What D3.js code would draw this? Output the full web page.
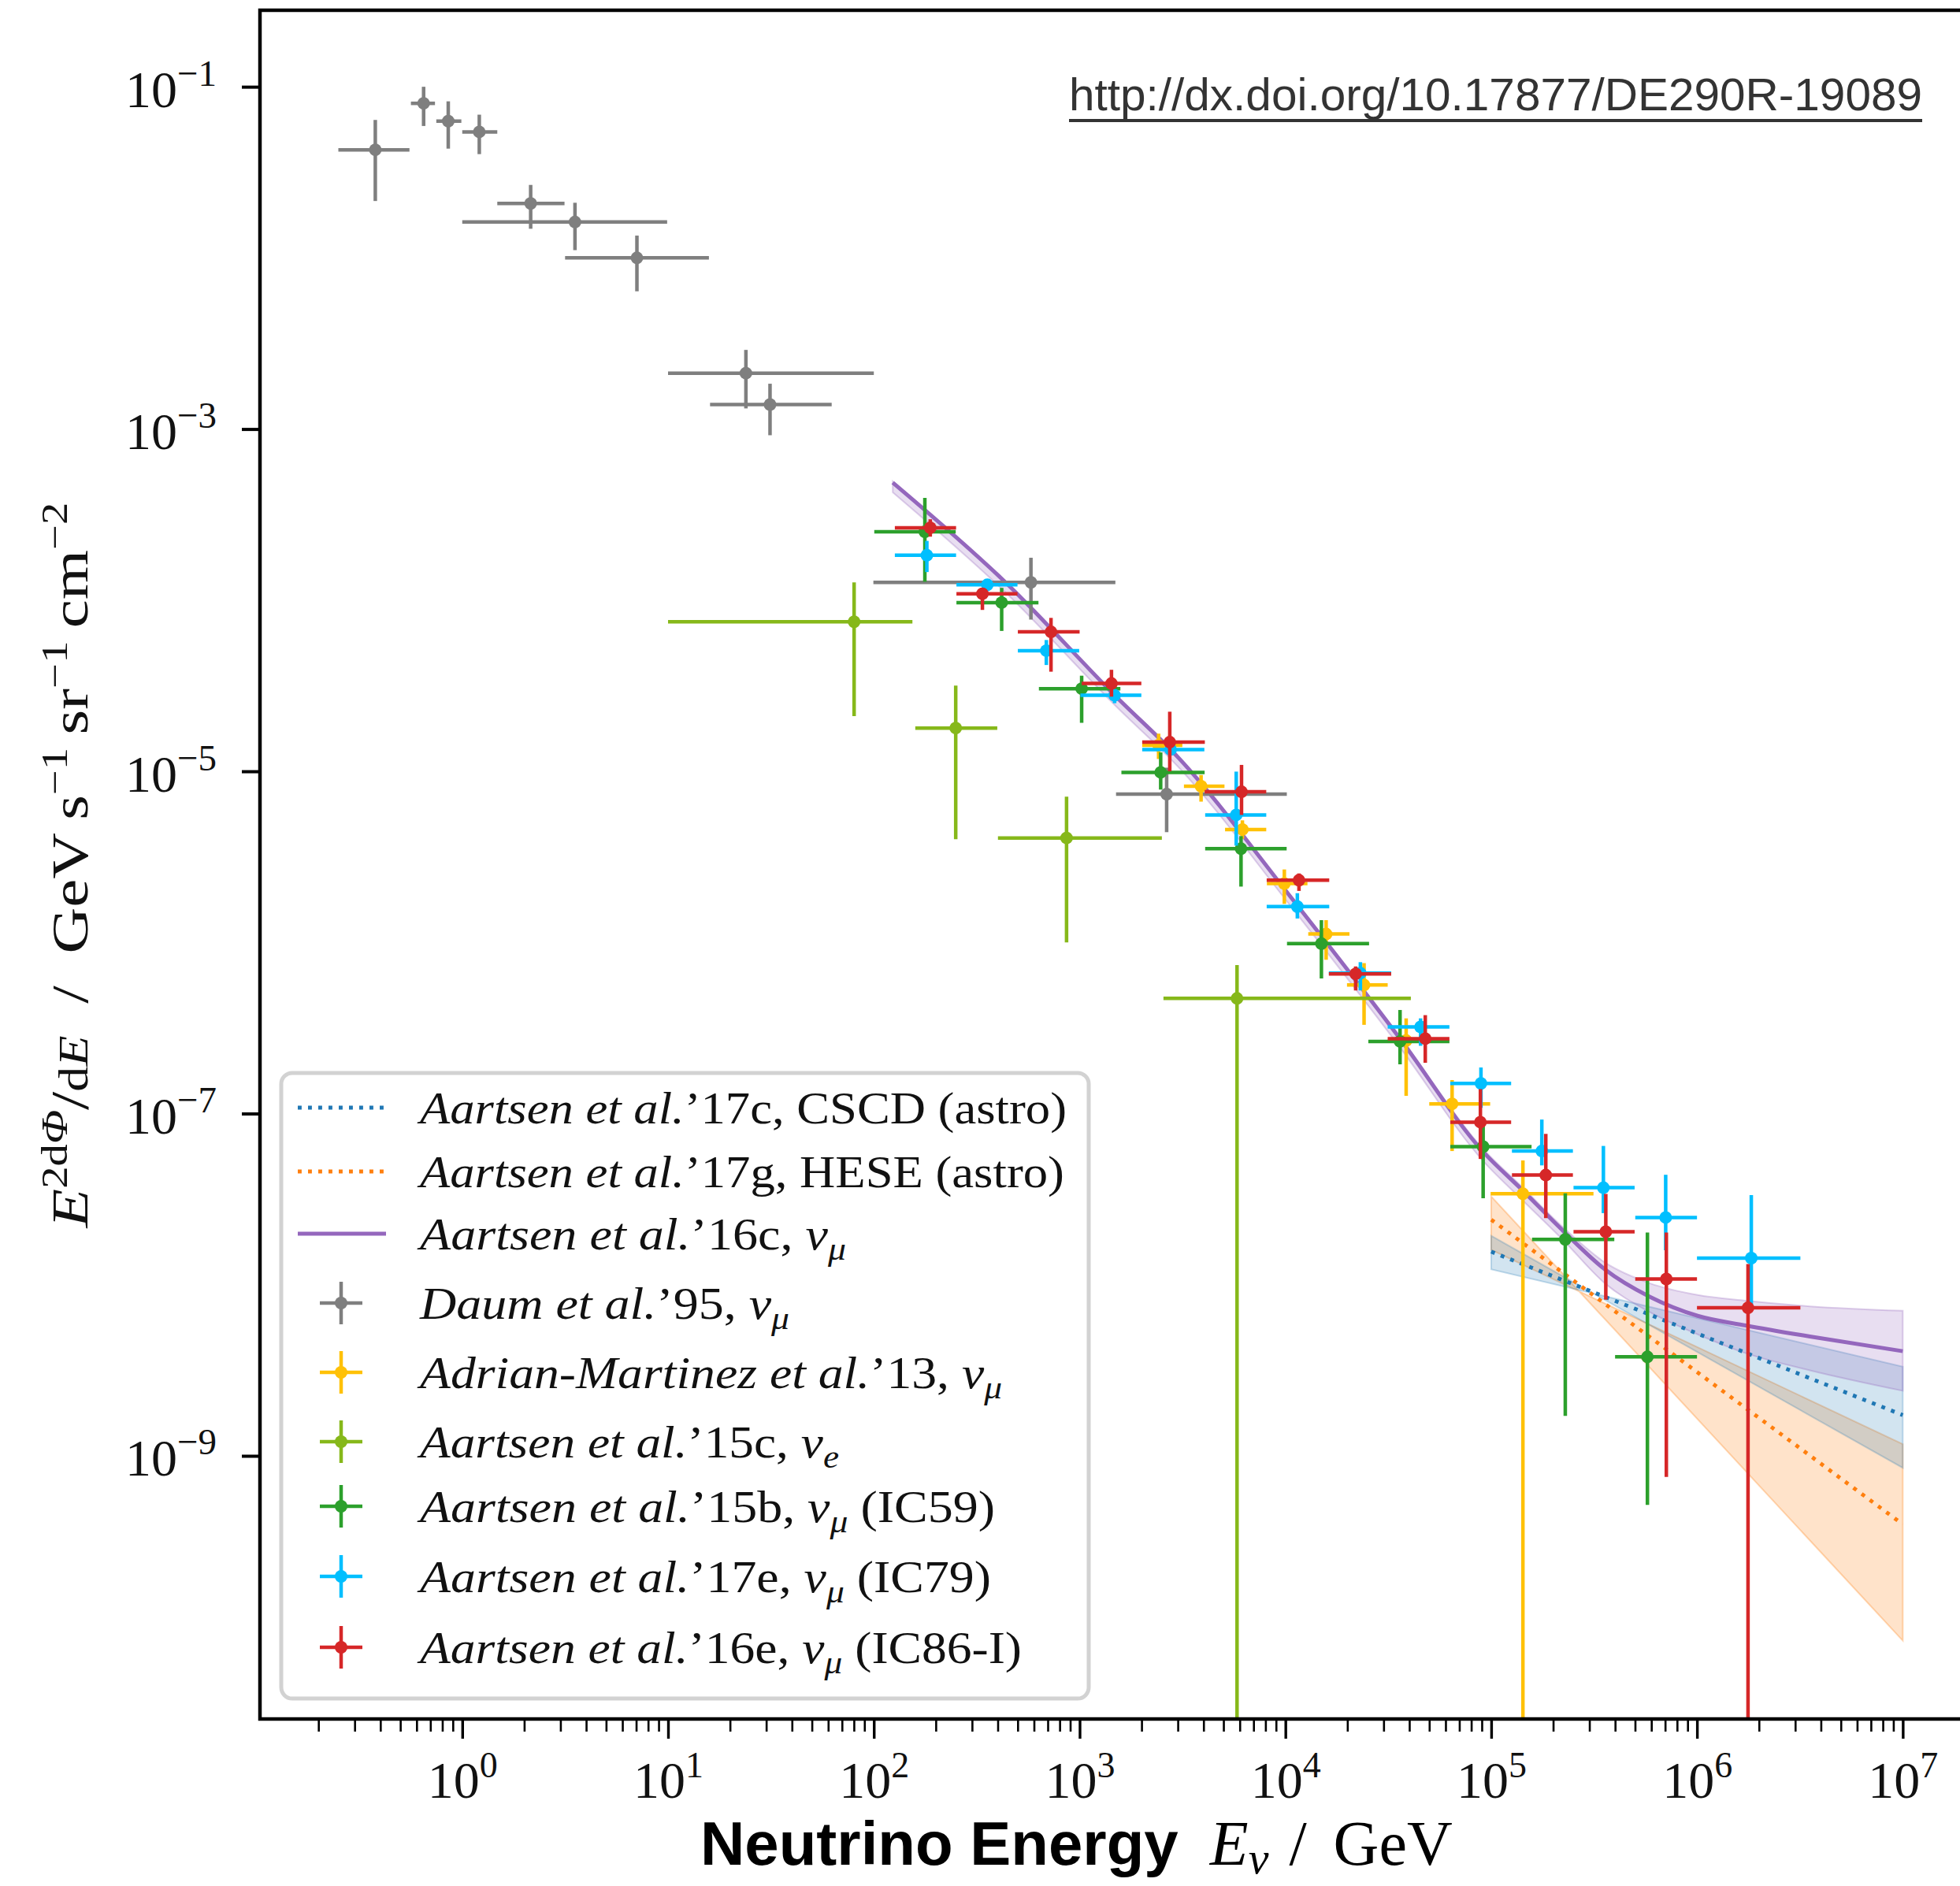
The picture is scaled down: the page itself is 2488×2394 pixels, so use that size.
<!DOCTYPE html>
<html>
<head>
<meta charset="utf-8">
<script src="https://cdn.jsdelivr.net/npm/d3@7"></script>
<style>
  html, body { margin: 0; padding: 0; background: #fff; }
  svg { display: block; }
</style>
</head>
<body>
<svg id="chart" width="2488" height="2394"></svg>
<script>
// ---------------------------------------------------------------------------
// Measured spectra: [E, E_low, E_high, flux, flux_low, flux_high]
// E in GeV, flux = E^2 dPhi/dE in GeV s^-1 sr^-1 cm^-2 (flux_low 0 = open bar)
// ---------------------------------------------------------------------------
const daum = [
  [0.378, 0.25, 0.554, 0.0428, 0.0215, 0.064],
  [0.649, 0.563, 0.737, 0.080, 0.059, 0.100],
  [0.855, 0.748, 0.99, 0.063, 0.0435, 0.0822],
  [1.21, 1.0, 1.48, 0.0545, 0.0404, 0.0687],
  [2.15, 1.48, 3.14, 0.0208, 0.0148, 0.0267],
  [3.53, 1.0, 9.9, 0.0162, 0.0111, 0.0210],
  [7.06, 3.16, 15.8, 0.0100, 0.00638, 0.0135],
  [23.9, 10, 100, 0.00212, 0.00132, 0.0029],
  [31.3, 16.0, 62.4, 0.00139, 0.00092, 0.00184],
  [580, 99.5, 1492, 1.27e-4, 7.7e-5, 1.77e-4],
  [2648, 1503, 10160, 7.35e-6, 4.41e-6, 1.05e-5]
];

const antares = [
  [2420, 2014, 3157, 1.42e-5, 1.18e-5, 1.66e-5],
  [3892, 3213, 5058, 8.18e-6, 6.65e-6, 9.51e-6],
  [6180, 5090, 8070, 4.57e-6, 4.03e-6, 5.17e-6],
  [9880, 8128, 12800, 2.21e-6, 1.68e-6, 2.67e-6],
  [15770, 12910, 20480, 1.12e-6, 7.92e-7, 1.35e-6],
  [24110, 19920, 31410, 5.64e-7, 3.30e-7, 7.57e-7],
  [38610, 31500, 48980, 2.67e-7, 1.27e-7, 3.60e-7],
  [64570, 50000, 98850, 1.14e-7, 6.04e-8, 1.57e-7],
  [142600, 99350, 314100, 3.40e-8, 0, 5.32e-8]
];

const cascadeNuE = [
  [80.2, 10, 154, 7.48e-5, 2.10e-5, 1.27e-4],
  [250, 159, 398, 1.79e-5, 4.01e-6, 3.17e-5],
  [864, 401, 2510, 4.08e-6, 1.0e-6, 7.11e-6],
  [5820, 2555, 40700, 4.71e-7, 0, 7.37e-7]
];

const ic59 = [
  [177, 100.5, 250, 2.51e-4, 1.28e-4, 3.96e-4],
  [418, 252, 631, 9.68e-5, 6.61e-5, 1.18e-4],
  [1023, 634, 1578, 3.04e-5, 1.92e-5, 3.62e-5],
  [2477, 1596, 4050, 9.86e-6, 7.82e-6, 1.29e-5],
  [6086, 4074, 10140, 3.53e-6, 2.12e-6, 4.18e-6],
  [14960, 10180, 25500, 9.84e-7, 6.16e-7, 1.35e-6],
  [36060, 25290, 62660, 2.64e-7, 1.94e-7, 4.03e-7],
  [91380, 63240, 157100, 6.41e-8, 3.20e-8, 8.45e-8],
  [229100, 157900, 396500, 1.84e-8, 1.71e-9, 3.42e-8],
  [574300, 399900, 1.0e6, 3.79e-9, 5.17e-10, 2.02e-8]
];

const ic79 = [
  [181, 126.5, 251, 1.83e-4, 1.46e-4, 2.22e-4],
  [356, 252, 499, 1.23e-4, 1.13e-4, 1.33e-4],
  [689, 501, 995, 5.07e-5, 4.18e-5, 5.85e-5],
  [1479, 1009, 1995, 2.78e-5, 2.50e-5, 2.98e-5],
  [2767, 2014, 4038, 1.34e-5, 1.25e-5, 1.41e-5],
  [5768, 4074, 8072, 5.56e-6, 3.68e-6, 9.96e-6],
  [11430, 8110, 16330, 1.62e-6, 1.38e-6, 1.94e-6],
  [23140, 16260, 32660, 6.61e-7, 5.24e-7, 7.67e-7],
  [45370, 31410, 62660, 3.21e-7, 2.49e-7, 3.60e-7],
  [89170, 63240, 125000, 1.50e-7, 1.08e-7, 1.86e-7],
  [176200, 126100, 249500, 6.04e-8, 4.98e-8, 9.23e-8],
  [350900, 251200, 497700, 3.69e-8, 2.62e-8, 6.47e-8],
  [704500, 501200, 1.0e6, 2.47e-8, 1.59e-8, 4.39e-8],
  [1.836e6, 1.0e6, 3.18e6, 1.43e-8, 7.66e-9, 3.34e-8]
];

const ic86 = [
  [188, 126.5, 251, 2.65e-4, 2.35e-4, 2.97e-4],
  [337, 252, 499, 1.09e-4, 8.77e-5, 1.18e-4],
  [726, 501, 1000, 6.53e-5, 3.82e-5, 7.88e-5],
  [1428, 1024, 1995, 3.26e-5, 2.73e-5, 3.92e-5],
  [2742, 2014, 4060, 1.48e-5, 1.00e-5, 2.23e-5],
  [6120, 4050, 8070, 7.59e-6, 5.56e-6, 1.09e-5],
  [11640, 8110, 16330, 2.31e-6, 2.00e-6, 2.53e-6],
  [21950, 16260, 32660, 6.55e-7, 5.24e-7, 7.24e-7],
  [47820, 31410, 62660, 2.74e-7, 1.98e-7, 3.76e-7],
  [88620, 63240, 125000, 8.91e-8, 5.43e-8, 1.39e-7],
  [184200, 126100, 249500, 4.37e-8, 2.45e-8, 7.61e-8],
  [360500, 251200, 497700, 2.04e-8, 8.17e-9, 3.39e-8],
  [709700, 501200, 1.0e6, 1.08e-8, 7.52e-10, 2.02e-8],
  [1.77e6, 1.0e6, 3.18e6, 7.33e-9, 0, 1.32e-8]
];

// Unfolded nu_mu fit (atmospheric + astrophysical) with its uncertainty band
const fitE       = [123.6, 436.5, 1503, 3041, 10400, 35890, 91830, 140300, 223900, 356500, 588800, 1.007e6, 1.726e6, 3.54e6, 1e7];
const fitFlux    = [4.86e-4, 1.27e-4, 2.73e-5, 1.19e-5, 1.90e-6, 2.76e-7, 5.94e-8, 3.61e-8, 2.06e-8, 1.23e-8, 8.51e-9, 6.58e-9, 5.78e-9, 4.98e-9, 4.09e-9];
const fitFluxHi  = [4.95e-4, 1.29e-4, 2.77e-5, 1.21e-5, 1.93e-6, 2.82e-7, 6.17e-8, 3.76e-8, 2.16e-8, 1.35e-8, 1.02e-8, 8.71e-9, 8.07e-9, 7.48e-9, 7.05e-9];
const fitFluxLo  = [4.27e-4, 1.11e-4, 2.40e-5, 1.05e-5, 1.68e-6, 2.45e-7, 5.25e-8, 3.16e-8, 1.82e-8, 1.02e-8, 6.92e-9, 5.13e-9, 3.98e-9, 3.16e-9, 2.40e-9];

// Astrophysical power laws (cascades, HESE) and their bands
const astroE     = [1e5, 1e7];
const cscdFlux   = [1.56e-8, 1.73e-9];
const cscdBandA  = [1.93e-8, 8.51e-10];
const cscdBandB  = [1.23e-8, 3.32e-9];
const heseFlux   = [2.40e-8, 3.98e-10];
const heseBandA  = [3.28e-8, 8.32e-11];
const heseBandB  = [1.60e-8, 1.17e-9];

// Axis ticks and labels
const xMajorTicks = [1, 10, 100, 1e3, 1e4, 1e5, 1e6, 1e7];
const xTickExp    = ["0", "1", "2", "3", "4", "5", "6", "7"];
const yMajorTicks = [1e-1, 1e-3, 1e-5, 1e-7, 1e-9];
const yTickExp    = ["\u22121", "\u22123", "\u22125", "\u22127", "\u22129"];

// ---------------------------------------------------------------------------
const COL = {
  gray: "#7f7f7f", yellow: "#ffc107", yellowgreen: "#86b81a", green: "#2ca02c",
  cyan: "#00bfff", red: "#d62728", purple: "#9467bd", blue: "#1f77b4", orange: "#ff7f0e"
};
const SERIF = "'Liberation Serif', 'DejaVu Serif', serif";
const SANS  = "'Liberation Sans', Arial, sans-serif";

const svg = d3.select("#chart");
const plot = { left: 330, right: 2494, top: 13, bottom: 2182 };

const x = d3.scaleLog().domain([0.104, 2e7]).range([plot.left, plot.right]);
const y = d3.scaleLog().domain([2.9e-11, 0.28]).range([plot.bottom, plot.top]);
const yc = v => (v > 0 ? y(v) : plot.bottom + 20);

svg.append("defs").append("clipPath").attr("id", "plotclip")
  .append("rect")
  .attr("x", plot.left).attr("y", plot.top)
  .attr("width", plot.right - plot.left).attr("height", plot.bottom - plot.top);

const body = svg.append("g").attr("clip-path", "url(#plotclip)");

// ---- bands -----------------------------------------------------------------
const bandArea = (lo, hi) => d3.area()
  .x(d => x(d))
  .y0((d, i) => y(lo[i]))
  .y1((d, i) => y(hi[i]));

body.append("path").datum(astroE)
  .attr("d", bandArea(heseBandB, heseBandA))
  .attr("fill", COL.orange).attr("fill-opacity", 0.22)
  .attr("stroke", COL.orange).attr("stroke-opacity", 0.3).attr("stroke-width", 2);

body.append("path").datum(astroE)
  .attr("d", bandArea(cscdBandB, cscdBandA))
  .attr("fill", COL.blue).attr("fill-opacity", 0.2)
  .attr("stroke", COL.blue).attr("stroke-opacity", 0.25).attr("stroke-width", 2);

body.append("path").datum(fitE)
  .attr("d", bandArea(fitFluxLo, fitFluxHi).curve(d3.curveMonotoneX))
  .attr("fill", COL.purple).attr("fill-opacity", 0.22)
  .attr("stroke", COL.purple).attr("stroke-opacity", 0.3).attr("stroke-width", 2);

// ---- model lines -----------------------------------------------------------
const modelLine = vals => d3.line().x(d => x(d)).y((d, i) => y(vals[i]));

body.append("path").datum(astroE)
  .attr("d", modelLine(cscdFlux))
  .attr("fill", "none").attr("stroke", COL.blue)
  .attr("stroke-width", 4.9).attr("stroke-dasharray", "4.9 8.1");

body.append("path").datum(astroE)
  .attr("d", modelLine(heseFlux))
  .attr("fill", "none").attr("stroke", COL.orange)
  .attr("stroke-width", 4.9).attr("stroke-dasharray", "4.9 8.1");

body.append("path").datum(fitE)
  .attr("d", modelLine(fitFlux).curve(d3.curveMonotoneX))
  .attr("fill", "none").attr("stroke", COL.purple).attr("stroke-width", 5);

// ---- error bars ------------------------------------------------------------
const series = [
  { rows: daum, color: COL.gray },
  { rows: antares, color: COL.yellow },
  { rows: cascadeNuE, color: COL.yellowgreen },
  { rows: ic59, color: COL.green },
  { rows: ic79, color: COL.cyan },
  { rows: ic86, color: COL.red }
];

series.forEach(s => {
  const g = body.append("g");
  g.selectAll("line.h").data(s.rows).join("line").attr("class", "h")
    .attr("x1", d => x(d[1])).attr("x2", d => x(d[2]))
    .attr("y1", d => y(d[3])).attr("y2", d => y(d[3]))
    .attr("stroke", s.color).attr("stroke-width", 4.5);
  g.selectAll("line.v").data(s.rows).join("line").attr("class", "v")
    .attr("x1", d => x(d[0])).attr("x2", d => x(d[0]))
    .attr("y1", d => yc(d[4])).attr("y2", d => y(d[5]))
    .attr("stroke", s.color).attr("stroke-width", 4.5);
  g.selectAll("circle").data(s.rows).join("circle")
    .attr("cx", d => x(d[0])).attr("cy", d => y(d[3])).attr("r", 8)
    .attr("fill", s.color);
});

// ---- axes ------------------------------------------------------------------
const gxMinor = svg.append("g").attr("transform", `translate(0,${plot.bottom})`)
  .call(d3.axisBottom(x)
    .tickValues(x.ticks().filter(t => !xMajorTicks.includes(t)))
    .tickSize(16).tickFormat(() => ""));
gxMinor.select(".domain").remove();
gxMinor.selectAll(".tick line").attr("stroke", "#000").attr("stroke-width", 2.6);

const gx = svg.append("g").attr("transform", `translate(0,${plot.bottom})`)
  .call(d3.axisBottom(x).tickValues(xMajorTicks).tickSize(25).tickFormat(() => ""));
gx.select(".domain").remove();
gx.selectAll(".tick line").attr("stroke", "#000").attr("stroke-width", 3.4);
gx.selectAll(".tick text").each(function (d, i) {
  const t = d3.select(this)
    .attr("y", 100).attr("dy", null).attr("fill", "#111")
    .attr("font-family", SERIF).attr("font-size", 66).attr("text-anchor", "middle");
  t.append("tspan").text("10");
  t.append("tspan").attr("dy", -26).attr("font-size", 46).text(xTickExp[i]);
});

const gy = svg.append("g").attr("transform", `translate(${plot.left},0)`)
  .call(d3.axisLeft(y).tickValues(yMajorTicks).tickSize(23).tickFormat(() => ""));
gy.select(".domain").remove();
gy.selectAll(".tick line").attr("stroke", "#000").attr("stroke-width", 4);
gy.selectAll(".tick text").each(function (d, i) {
  const t = d3.select(this)
    .attr("x", -55).attr("dy", null).attr("y", 25).attr("fill", "#111")
    .attr("font-family", SERIF).attr("font-size", 66).attr("text-anchor", "end");
  t.append("tspan").text("10");
  t.append("tspan").attr("dy", -27).attr("font-size", 47).text(yTickExp[i]);
});

// frame
svg.append("path")
  .attr("d", `M${plot.right},${plot.top}H${plot.left}V${plot.bottom}H${plot.right}`)
  .attr("fill", "none").attr("stroke", "#000").attr("stroke-width", 4.5);

// ---- axis titles -----------------------------------------------------------
const xt = svg.append("text").attr("x", 889).attr("y", 2367).attr("fill", "#000");
xt.append("tspan").attr("font-family", SANS).attr("font-weight", "bold")
  .attr("font-size", 78).text("Neutrino Energy");
xt.append("tspan").attr("font-family", SERIF).attr("font-style", "italic")
  .attr("font-size", 80).attr("dx", 40).text("E");
xt.append("tspan").attr("font-family", SERIF).attr("font-style", "italic")
  .attr("font-size", 58).attr("dy", 11).text("\u03bd");
xt.append("tspan").attr("font-family", SERIF)
  .attr("font-size", 80).attr("dy", -11).attr("dx", 26).text("/");
xt.append("tspan").attr("font-family", SERIF)
  .attr("font-size", 80).attr("dx", 34).text("GeV");

// y title: E^2 dPhi/dE / GeV s^-1 sr^-1 cm^-2, stretched along its baseline to span 921 px
const ytlGroup = svg.append("g");
const ytl = ytlGroup.append("text")
  .attr("text-anchor", "middle").attr("font-family", SERIF).attr("fill", "#111");
[
  { t: "E", size: 66, it: true, dy: 0 },
  { t: "2", size: 46, dy: -26 },
  { t: "d", size: 46, dy: 0 },
  { t: "\u03a6", size: 46, it: true, dy: 0 },
  { t: "/", size: 68, dy: 26 },
  { t: "d", size: 52, dy: 0 },
  { t: "E", size: 52, it: true, dy: 0 },
  { t: "\u2002/\u2002GeV\u2009s", size: 66, dy: 0 },
  { t: "\u22121", size: 46, dy: -26 },
  { t: "\u2009sr", size: 66, dy: 26 },
  { t: "\u22121", size: 46, dy: -26 },
  { t: "\u2009cm", size: 66, dy: 26 },
  { t: "\u22122", size: 46, dy: -26 }
].forEach(p => {
  ytl.append("tspan").attr("font-size", p.size).attr("dy", p.dy)
    .attr("font-style", p.it ? "italic" : "normal").text(p.t);
});
const ytlLen = ytl.node().getComputedTextLength();
const ytlStretch = ytlLen > 0 ? 921 / ytlLen : 1;
ytlGroup.attr("transform", `translate(111,1098) rotate(-90) scale(${ytlStretch},1)`);

// ---- DOI -------------------------------------------------------------------
svg.append("text").attr("x", 1357).attr("y", 140)
  .attr("font-family", SANS).attr("font-size", 58).attr("fill", "#333")
  .attr("textLength", 1083).attr("lengthAdjust", "spacingAndGlyphs")
  .text("http://dx.doi.org/10.17877/DE290R-19089");
svg.append("line").attr("x1", 1357).attr("x2", 2440).attr("y1", 153).attr("y2", 153)
  .attr("stroke", "#333").attr("stroke-width", 4);

// ---- legend ----------------------------------------------------------------
const legendEntries = [
  { kind: "dotted", color: COL.blue,   width: 821, parts: [["Aartsen et al.", "it"], ["\u201917c, CSCD (astro)", "rm"]] },
  { kind: "dotted", color: COL.orange, width: 818, parts: [["Aartsen et al.", "it"], ["\u201917g, HESE (astro)", "rm"]] },
  { kind: "solid",  color: COL.purple, width: 541, parts: [["Aartsen et al.", "it"], ["\u201916c, ", "rm"], ["\u03bd", "it"], ["\u03bc", "sub"]] },
  { kind: "bar",    color: COL.gray,   width: 469, parts: [["Daum et al.", "it"], ["\u201995, ", "rm"], ["\u03bd", "it"], ["\u03bc", "sub"]] },
  { kind: "bar",    color: COL.yellow, width: 739, parts: [["Adrian-Martinez et al.", "it"], ["\u201913, ", "rm"], ["\u03bd", "it"], ["\u03bc", "sub"]] },
  { kind: "bar",    color: COL.yellowgreen, width: 532, parts: [["Aartsen et al.", "it"], ["\u201915c, ", "rm"], ["\u03bd", "it"], ["e", "sub"]] },
  { kind: "bar",    color: COL.green,  width: 730, parts: [["Aartsen et al.", "it"], ["\u201915b, ", "rm"], ["\u03bd", "it"], ["\u03bc", "sub"], [" (IC59)", "rm"]] },
  { kind: "bar",    color: COL.cyan,   width: 725, parts: [["Aartsen et al.", "it"], ["\u201917e, ", "rm"], ["\u03bd", "it"], ["\u03bc", "sub"], [" (IC79)", "rm"]] },
  { kind: "bar",    color: COL.red,    width: 764, parts: [["Aartsen et al.", "it"], ["\u201916e, ", "rm"], ["\u03bd", "it"], ["\u03bc", "sub"], [" (IC86-I)", "rm"]] }
];
const legendRowY = [1406, 1487, 1566, 1654, 1742, 1830, 1912, 2001, 2091];

const lg = svg.append("g");
lg.append("rect").attr("x", 357).attr("y", 1362).attr("width", 1025).attr("height", 794)
  .attr("rx", 14).attr("fill", "#fff").attr("fill-opacity", 0.85)
  .attr("stroke", "#d2d2d2").attr("stroke-width", 5);

legendEntries.forEach((e, i) => {
  const cy = legendRowY[i];
  if (e.kind === "bar") {
    lg.append("line").attr("x1", 406).attr("x2", 460).attr("y1", cy).attr("y2", cy)
      .attr("stroke", e.color).attr("stroke-width", 4.5);
    lg.append("line").attr("x1", 433).attr("x2", 433).attr("y1", cy - 27).attr("y2", cy + 27)
      .attr("stroke", e.color).attr("stroke-width", 4.5);
    lg.append("circle").attr("cx", 433).attr("cy", cy).attr("r", 8).attr("fill", e.color);
  } else {
    lg.append("line").attr("x1", 378).attr("x2", 490).attr("y1", cy).attr("y2", cy)
      .attr("stroke", e.color).attr("stroke-width", e.kind === "solid" ? 5 : 4.9)
      .attr("stroke-dasharray", e.kind === "solid" ? null : "4.9 8.1");
  }
  const t = lg.append("text").attr("x", 533).attr("y", cy + 20)
    .attr("font-family", SERIF).attr("font-size", 56).attr("fill", "#111")
    .attr("textLength", e.width).attr("lengthAdjust", "spacingAndGlyphs");
  let shifted = false;
  e.parts.forEach(([txt, style]) => {
    const ts = t.append("tspan").text(txt);
    if (style === "sub") {
      ts.attr("font-style", "italic").attr("font-size", 40).attr("dy", 13);
      shifted = true;
    } else {
      if (shifted) { ts.attr("dy", -13); shifted = false; }
      ts.attr("font-style", style === "it" ? "italic" : "normal");
    }
  });
});
</script>
</body>
</html>
